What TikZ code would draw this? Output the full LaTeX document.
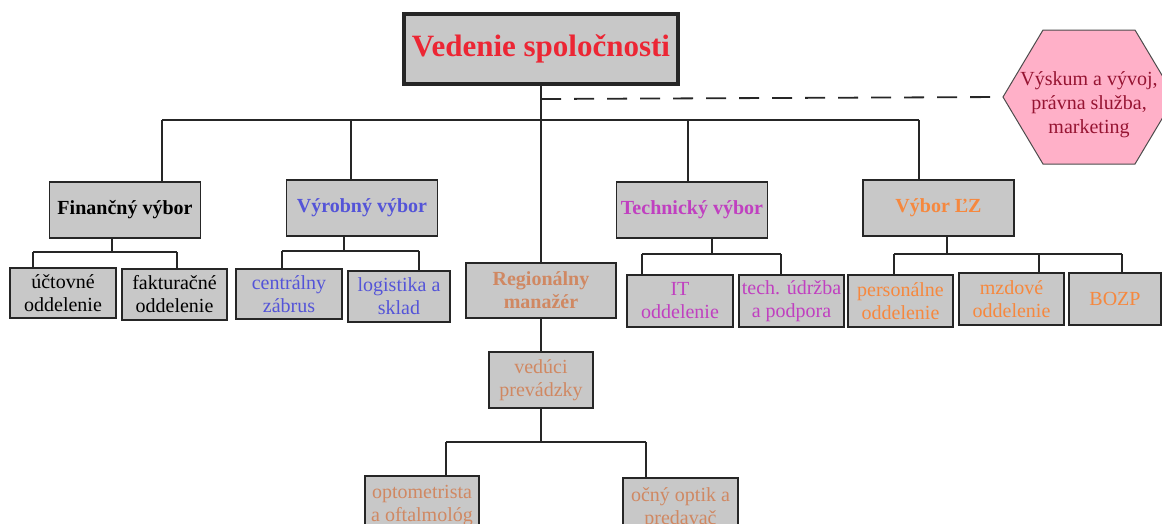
\documentclass[tikz,border=0pt]{standalone}
\usepackage{fontspec}
\setmainfont{Liberation Serif}
\definecolor{boxgray}{RGB}{200,200,200}
\definecolor{titlered}{RGB}{236,38,52}
\definecolor{prodblue}{RGB}{84,84,216}
\definecolor{techpink}{RGB}{192,64,192}
\definecolor{hrorange}{RGB}{246,136,62}
\definecolor{regbrown}{RGB}{208,136,98}
\definecolor{hexfill}{RGB}{255,176,200}
\definecolor{hextext}{RGB}{150,20,50}

\begin{document}
\begin{tikzpicture}
  [x=1pt,y=-1pt,
   unit/.style={draw=black!85,line width=1.6pt,fill=boxgray,align=center,inner sep=0pt,font=\fontsize{20}{23}\selectfont},
   board/.style={unit,font=\bfseries\fontsize{20}{23}\selectfont,minimum width=151pt,minimum height=56pt},
   hexnote/.style={align=center,inner sep=0pt,text=hextext,font=\fontsize{20}{24}\selectfont},
   link/.style={draw=black!85,line width=1.3pt}]
  \useasboundingbox (0,0) rectangle (1162,523);

  \node[board,text=titlered,line width=3.2pt,minimum width=274pt,minimum height=70pt,font=\bfseries\fontsize{31}{34}\selectfont] (top) at (541,49) {Vedenie spoločnosti};

  \node[board] (fin) at (125,210) {Finančný výbor};
  \node[board,text=prodblue] (vyr) at (362,208) {Výrobný výbor};
  \node[board,text=techpink] (tech) at (692,210) {Technický výbor};
  \node[board,text=hrorange] (lz) at (938.5,208) {Výbor ĽZ};
  \node[board,text=regbrown,minimum width=150pt,minimum height=55pt] (reg) at (541,290.5) {Regionálny\\manažér};

  \node[unit,minimum width=106pt,minimum height=50pt] (uct) at (63,293) {účtovné\\oddelenie};
  \node[unit,minimum width=105pt,minimum height=51pt] (fakt) at (174.5,294.5) {fakturačné\\oddelenie};
  \node[unit,text=prodblue,minimum width=106pt,minimum height=50pt] (cen) at (289,294) {centrálny\\zábrus};
  \node[unit,text=prodblue,minimum width=102pt,minimum height=51pt] (log) at (399,296.5) {logistika a\\sklad};
  \node[unit,text=techpink,minimum width=106pt,minimum height=52pt] (it) at (680,301) {IT\\oddelenie};
  \node[unit,text=techpink,minimum width=105pt,minimum height=52pt] (tud) at (791.5,301) {tech. údržba\\a podpora};
  \node[unit,text=hrorange,minimum width=105pt,minimum height=52pt] (pers) at (900.5,301) {personálne\\oddelenie};
  \node[unit,text=hrorange,minimum width=105pt,minimum height=52pt] (mzd) at (1011.5,299) {mzdové\\oddelenie};
  \node[unit,text=hrorange,minimum width=92pt,minimum height=52pt] (bozp) at (1115,299) {BOZP};
  \node[unit,text=regbrown,minimum width=104pt,minimum height=56pt] (ved) at (541,380) {vedúci\\prevádzky};
  \node[unit,text=regbrown,minimum width=114pt,minimum height=60pt] (opt) at (422,506) {optometrista\\a oftalmológ};
  \node[unit,text=regbrown,minimum width=115pt,minimum height=60pt] (ocn) at (680.5,508) {očný optik a\\predavač};

  \coordinate (hexw) at (1003,97);
  \draw[draw=black!70,line width=1pt,fill=hexfill] (hexw) -- ++(40,-67) -- ++(92,0) -- ++(40,67) -- ++(-40,67) -- ++(-92,0) -- cycle;
  \node[hexnote] (hex) at (1089,105) {Výskum a vývoj,\\právna služba,\\marketing};

  \coordinate (dash) at (541,99);
  \coordinate (busl) at (162,120);
  \coordinate (busr) at (919,120);
  \coordinate (dfin) at (162,120);
  \coordinate (dvyr) at (351,120);
  \coordinate (dtech) at (688,120);
  \coordinate (dlz) at (919,120);
  \coordinate (fj) at (112,252);
  \coordinate (fl) at (33,252);
  \coordinate (fr) at (177,252);
  \coordinate (vj) at (344,251);
  \coordinate (vl) at (282,251);
  \coordinate (vr) at (419,251);
  \coordinate (tj) at (712,254);
  \coordinate (tl) at (642,254);
  \coordinate (tr) at (781,254);
  \coordinate (lj) at (947,254);
  \coordinate (ll) at (894,254);
  \coordinate (lm) at (1039,254);
  \coordinate (lr) at (1122,254);
  \coordinate (oj) at (541,442);
  \coordinate (ol) at (446,442);
  \coordinate (or) at (646,442);

  \draw[link] (top) -- (reg);
  \draw[link] (reg) -- (ved);
  \draw[link,line width=1.8pt,dash pattern=on 20pt off 13pt] (dash) -- (hexw);
  \foreach \a/\b in {busl/busr,fl/fr,vl/vr,tl/tr,ll/lr,ol/or}
    \draw[link] (\a) -- (\b);
  \foreach \a/\b in {fj/fin,vj/vyr,tj/tech,lj/lz,oj/ved}
    \draw[link] (\a) -- (\a |- \b.south);
  \foreach \a/\b in {dfin/fin,dvyr/vyr,dtech/tech,dlz/lz,fl/uct,fr/fakt,vl/cen,vr/log,tl/it,tr/tud,ll/pers,lm/mzd,lr/bozp,ol/opt,or/ocn}
    \draw[link] (\a) -- (\a |- \b.north);

\end{tikzpicture}
\end{document}
